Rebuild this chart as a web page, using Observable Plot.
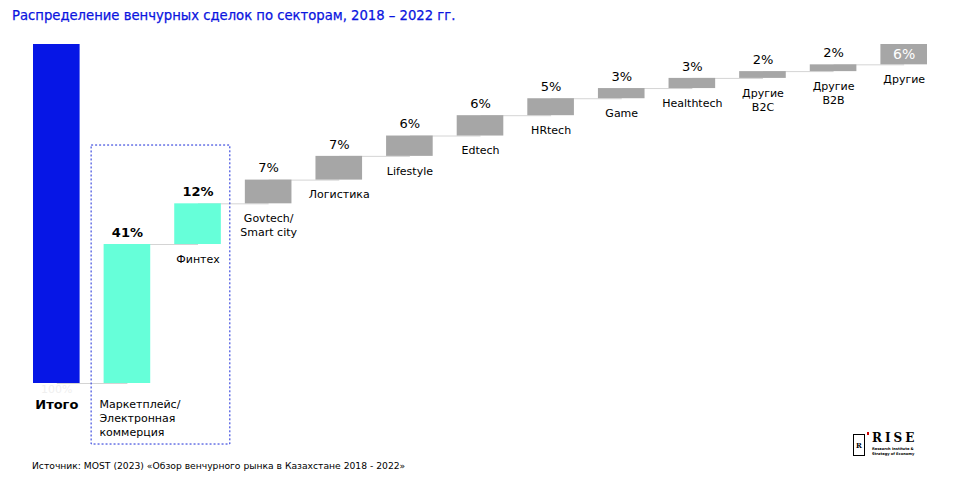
<!DOCTYPE html>
<html><head><meta charset="utf-8">
<script src="https://cdn.jsdelivr.net/npm/d3@7"></script>
<script src="https://cdn.jsdelivr.net/npm/@observablehq/plot@0.6"></script>
<style>
body{margin:0;background:#fff;font-family:"DejaVu Sans",sans-serif;}
#wrap{position:relative;width:979px;height:486px;overflow:hidden;background:#fff}
#chart{position:absolute;left:0;top:0}
#title{position:absolute;left:12px;top:8px;color:#0a14e0;font-size:13.2px;white-space:nowrap;-webkit-text-stroke:0.25px #0a14e0}
#source{position:absolute;left:32px;top:460px;color:#000;font-size:9.2px;white-space:nowrap}
#logo{position:absolute;left:852px;top:431px;width:80px;height:30px}
#logo .box{position:absolute;left:1px;top:3px;width:11px;height:20px;border:1px solid #000;border-right:none}
#logo .box2{position:absolute;left:12px;top:3px;width:1px;height:21px;background:#000}
#logo .dot{position:absolute;left:15px;top:1px;width:2px;height:3px;background:#c00}
#logo .fig{position:absolute;left:4px;top:10px;font-size:7px;font-weight:bold;font-family:"DejaVu Serif",serif}
#logo .rise{position:absolute;left:20px;top:0px;font-family:"DejaVu Serif",serif;font-weight:bold;font-size:12px;letter-spacing:3px;color:#000}
#logo .sub{position:absolute;left:20px;top:16px;font-size:3.6px;line-height:5px;font-weight:bold;color:#000;white-space:nowrap}
</style></head><body>
<div id="wrap">
<div id="chart"></div>
<div id="title">Распределение венчурных сделок по секторам, 2018 – 2022 гг.</div>
<div id="source">Источник: MOST (2023) «Обзор венчурного рынка в Казахстане 2018 - 2022»</div>
<div id="logo"><div class="box"></div><div class="box2"></div><div class="dot"></div><div class="fig">R</div><div class="rise">RISE</div><div class="sub">Research Institute &amp;<br>Strategy of Economy</div></div>
</div>
<script>
const categories = ["Итого", "Маркетплейс/\nЭлектронная\nкоммерция", "Финтех", "Govtech/\nSmart city", "Логистика", "Lifestyle", "Edtech", "HRtech", "Game", "Healthtech", "Другие\nB2C", "Другие\nB2B", "Другие"];
const values = [100, 41, 12, 7, 7, 6, 6, 5, 3, 3, 2, 2, 6];
const valueLabels = ["100%", "41%", "12%", "7%", "7%", "6%", "6%", "5%", "3%", "3%", "2%", "2%", "6%"];
const groups = ["total", "focus", "focus", "other", "other", "other", "other", "other", "other", "other", "other", "other", "other"];

const colors = {total: "#0616e6", focus: "#66ffd9", other: "#a6a6a6"};

let cum = 0;
const rows = categories.map((cat, i) => {
  if (i === 0) return {cat, y1: 0, y2: values[0], label: valueLabels[i], group: groups[i], i};
  const y1 = cum; cum += values[i];
  return {cat, y1, y2: cum, label: valueLabels[i], group: groups[i], i};
});
const links = rows.slice(0, -1).map((r, i) => ({a: r.cat, b: rows[i + 1].cat, level: rows[i + 1].y1}));

const chart = Plot.plot({
  width: 979,
  height: 486,
  marginLeft: 33,
  marginRight: 52,
  marginTop: 44,
  marginBottom: 103,
  x: {domain: categories, paddingInner: 0.34, paddingOuter: 0, round: false, axis: null},
  y: {domain: [0, 100], axis: null},
  style: {fontFamily: "DejaVu Sans, sans-serif", background: "transparent"},
  marks: [
    Plot.link(links, {x1: "a", x2: "b", y1: "level", y2: "level", stroke: "#d4d4d4", strokeWidth: 1}),
    Plot.barY(rows, {x: "cat", y1: "y1", y2: "y2", fill: d => colors[d.group]}),
    Plot.text(rows.filter(d => d.i === 1 || d.i === 2), {x: "cat", y: "y2", text: "label", dy: -12, fontSize: 13, fontWeight: "bold", fill: "#000"}),
    Plot.text(rows.filter(d => d.i >= 3 && d.i < rows.length - 1), {x: "cat", y: "y2", text: "label", dy: -12, fontSize: 13, fill: "#000"}),
    Plot.text(rows.filter(d => d.i === rows.length - 1), {x: "cat", y: d => (d.y1 + d.y2) / 2, text: "label", fontSize: 14, fill: "#fff"}),
    Plot.text(rows.filter(d => d.i === 0), {x: "cat", y: "y1", text: "label", dy: 6, fontSize: 11, fill: "#efefef"}),
    Plot.text(rows.filter(d => d.i === 0), {x: "cat", y: "y1", text: "cat", dy: 21, fontSize: 13, fontWeight: "bold", fill: "#000"}),
    Plot.text(rows.filter(d => d.i === 1), {x: "cat", y: "y1", text: "cat", dy: 14, dx: -28, textAnchor: "start", lineAnchor: "top", lineHeight: 1.3, fontSize: 11, fill: "#000"}),
    Plot.text(rows.filter(d => d.i >= 2), {x: "cat", y: "y1", text: "cat", dy: 8, lineAnchor: "top", lineHeight: 1.3, fontSize: 11, fill: "#000"})
  ]
});

document.getElementById("chart").appendChild(chart);

const sx = chart.scale("x"), sy = chart.scale("y");
const bw = sx.bandwidth;
const boxLeft = sx.apply(categories[1]) - 12.5;
const boxRight = sx.apply(categories[2]) + bw + 9;
const boxTop = sy.apply(70.2);
const boxBottom = sy.apply(-18);
d3.select(chart).append("rect")
  .attr("x", boxLeft).attr("y", boxTop)
  .attr("width", boxRight - boxLeft).attr("height", boxBottom - boxTop)
  .attr("fill", "none").attr("stroke", "#1a2bd8").attr("stroke-width", 1).attr("stroke-dasharray", "2,2");
</script>
</body></html>
